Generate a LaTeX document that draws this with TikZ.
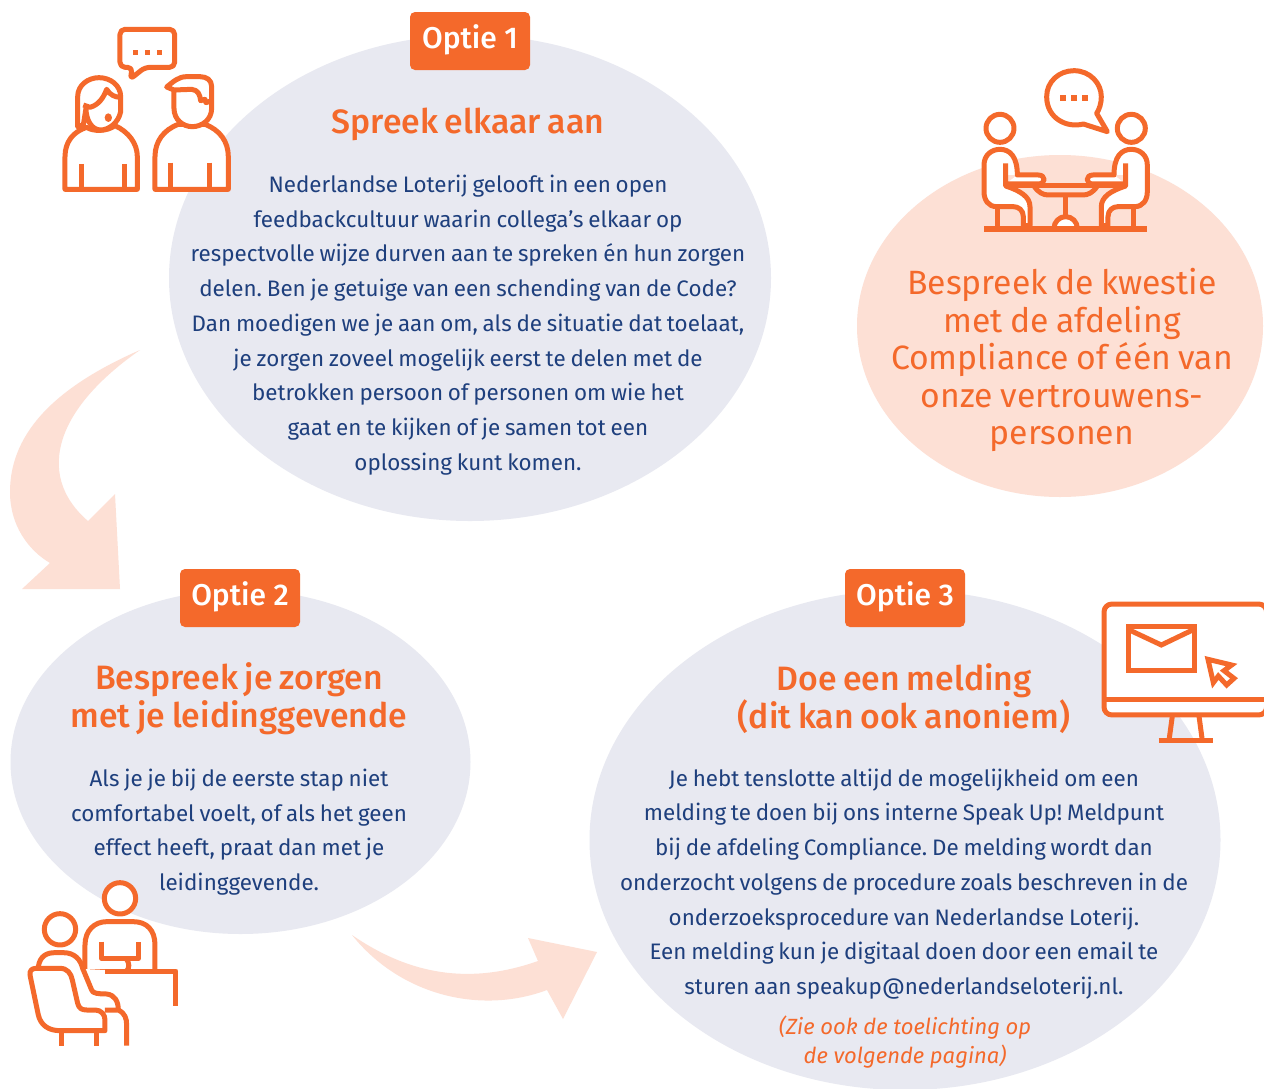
\documentclass[tikz,border=0pt]{standalone}
\usepackage{fontspec}
\setmainfont{Fira Sans}
\newfontfamily\titlef{Fira Sans Medium}
\definecolor{org}{HTML}{F4692B}
\definecolor{pale}{HTML}{E8E9F1}
\definecolor{pinkish}{HTML}{FDE0D5}
\definecolor{navy}{HTML}{1E3F7D}
\tikzset{
 badge/.style={fill=org,rounded corners=5pt,minimum width=120pt,minimum height=58pt,text=white,inner sep=0pt,font=\titlef\fontsize{30}{32}\selectfont},
 heading/.style={text=org,align=center,inner sep=0pt,font=\titlef\fontsize{33.8}{37.6}\selectfont\spaceskip 0.2em\relax},
 bodytext/.style={text=navy,align=center,inner sep=0pt,font=\fontsize{22.4}{34.7}\selectfont\frenchspacing\spaceskip 0.215em\relax},
 pinktext/.style={text=org,align=center,inner sep=0pt,font=\fontsize{33.7}{37.5}\selectfont\spaceskip 0.22em\relax},
 notetext/.style={text=org,align=center,inner sep=0pt,font=\itshape\fontsize{22}{29}\selectfont},
 icon/.style={draw=org,line width=5pt,line join=round},
 iconf/.style={icon,fill=white},
 dot/.style={fill=org,draw=none},
}
\begin{document}
\begin{tikzpicture}[x=1pt,y=-1pt]
\useasboundingbox (0,0) rectangle (1264,1088);
\clip (0,0) rectangle (1264,1088);
\fill[white] (0,0) rectangle (1264,1088);
% blobs
\fill[pale] (470,278) ellipse [x radius=301,y radius=243];
\fill[pinkish] (1060,326) ellipse [x radius=203,y radius=171];
\fill[pale] (240.5,762) ellipse [x radius=230,y radius=172];
\fill[pale] (905,840) ellipse [x radius=315.5,y radius=250];
% curved arrows
\fill[pinkish] (140,350) .. controls (60,385) and (10,430) .. (10,492)
  .. controls (10,525) and (28,550) .. (50,563) -- (22,589) -- (120,589) -- (115,494) -- (88,521)
  .. controls (40,480) and (47,415) .. (140,350) -- cycle;
\fill[pinkish] (352,935) .. controls (400,995) and (480,1015) .. (547,990) -- (563,1019) -- (597,952) -- (528,938) -- (538,961)
  .. controls (470,985) and (410,975) .. (352,935) -- cycle;
% badges
\node[badge] (b1) at (470,41) {};
\node[badge,fill=none] (b1t) at (470,40) {Optie 1};
\node[badge] (b2) at (240,598) {};
\node[badge,fill=none] (b2t) at (240,597) {Optie 2};
\node[badge] (b3) at (905,598) {};
\node[badge,fill=none] (b3t) at (905,597) {Optie 3};
% texts
\node[heading] (t1) at (468,124) {Spreek elkaar aan};
\node[bodytext] (p1) at (468,325) {Nederlandse Loterij gelooft in een open\\feedbackcultuur waarin collega’s elkaar op\\respectvolle wijze durven aan te spreken én hun zorgen\\delen. Ben je getuige van een schending van de Code?\\Dan moedigen we je aan om, als de situatie dat toelaat,\\je zorgen zoveel mogelijk eerst te delen met de\\betrokken persoon of personen om wie het\\gaat en te kijken of je samen tot een\\oplossing kunt komen.};
\node[pinktext] (p4) at (1062,360) {Bespreek de kwestie\\met de afdeling\\Compliance of één van\\onze vertrouwens-\\personen};
\node[heading] (t2) at (239,698.5) {Bespreek je zorgen\\met je leidinggevende};
\node[bodytext] (p2) at (239,832) {Als je je bij de eerste stap niet\\comfortabel voelt, of als het geen\\effect heeft, praat dan met je\\leidinggevende.};
\node[heading] (t3) at (904,698.5) {Doe een melding\\(dit kan ook anoniem)};
\node[bodytext] (p3) at (904,884) {Je hebt tenslotte altijd de mogelijkheid om een\\melding te doen bij ons interne Speak Up! Meldpunt\\bij de afdeling Compliance. De melding wordt dan\\onderzocht volgens de procedure zoals beschreven in de\\onderzoeksprocedure van Nederlandse Loterij.\\Een melding kun je digitaal doen door een email te\\sturen aan speakup@nederlandseloterij.nl.};
\node[notetext] (n3) at (905,1042) {(Zie ook de toelichting op\\de volgende pagina)};
% icon 1: two people talking
\begin{scope}[shift={(30,10)},x=0.3333pt,y=-0.3333pt]
 \draw[icon,rounded corners=5pt] (270,58) -- (434,58) -- (434,172) -- (345,172) -- (300,208) -- (308,172) -- (270,172) -- cycle;
 \foreach \xx in {316,352,388} \fill[dot] (\xx-8,119) rectangle (\xx+8,135);
 % woman
 \draw[iconf] (105,538) -- (105,440) .. controls (105,395) and (130,365) .. (170,352) .. controls (190,365) and (230,365) .. (255,347) .. controls (295,365) and (322,400) .. (322,440) -- (322,538) -- cycle;
 \draw[icon] (156,462) -- (156,538) (283,462) -- (283,538);
 \draw[iconf] (143,350) -- (143,260) .. controls (143,225) and (175,203) .. (207,203) .. controls (240,203) and (272,225) .. (272,260) -- (272,305) .. controls (265,340) and (235,360) .. (212,360) .. controls (185,360) and (168,330) .. (168,295) -- (160,345) -- cycle;
 \draw[icon] (160,285) -- (180,292) .. controls (205,285) and (220,265) .. (230,238) .. controls (240,255) and (255,262) .. (272,262);
 \fill[org] (235,323) ellipse [x radius=11,y radius=13];
 % man
 \draw[iconf] (375,538) -- (375,440) .. controls (375,395) and (400,360) .. (445,343) -- (525,343) .. controls (570,360) and (595,395) .. (595,440) -- (595,538) -- cycle;
 \draw[icon] (422,458) -- (422,538) (540,458) -- (540,538);
 \draw[iconf] (432,240) -- (432,295) .. controls (432,330) and (460,350) .. (487,350) .. controls (515,350) and (545,330) .. (545,295) -- (545,230) .. controls (545,210) and (530,200) .. (510,200) -- (470,200) .. controls (445,200) and (430,215) .. (410,231) -- (432,240) -- (485,238) .. controls (505,240) and (510,255) .. (512,272) -- (525,268) -- (528,278) -- (545,272);
\end{scope}
% icon 2: table talk
\begin{scope}[shift={(960,60)},x=0.3333pt,y=-0.3333pt]
 \draw[iconf] (410,160) -- (442,215) -- (370,192) .. controls (320,205) and (260,175) .. (260,110) .. controls (260,65) and (297,32) .. (342,32) .. controls (390,32) and (424,70) .. (424,110) .. controls (424,130) and (418,148) .. (410,160) -- cycle;
 \foreach \xx in {309,342,375} \fill[dot] (\xx-9,104) rectangle (\xx+9,122);
 \draw[icon] (222,378) .. controls (235,398) and (250,405) .. (265,405) -- (369,405) .. controls (384,405) and (399,398) .. (412,378);
 \draw[icon] (137,378) -- (497,378);
 \draw[icon] (317,405) -- (317,470);
 \foreach \mm/\oo in {1/0,-1/634}{
  \begin{scope}[shift={(\oo,0)},xscale=\mm]
  \fill[white] (137,378) .. controls (180,392) and (210,410) .. (210,440) -- (210,497) -- (190,497) -- (190,470) .. controls (190,450) and (175,440) .. (160,440) -- (110,440) .. controls (85,440) and (72,420) .. (72,395) -- (72,315) .. controls (72,285) and (95,268) .. (120,268) .. controls (150,268) and (172,290) .. (172,345) -- (137,345) -- cycle;
  \fill[white] (172,345) -- (235,345) .. controls (258,345) and (258,372) .. (235,372) -- (137,372) -- cycle;
  \draw[icon] (137,310) -- (137,378) .. controls (180,392) and (210,410) .. (210,440) -- (210,497) -- (190,497) -- (190,470) .. controls (190,450) and (175,440) .. (160,440) -- (110,440) .. controls (85,440) and (72,420) .. (72,395) -- (72,315) .. controls (72,285) and (95,268) .. (120,268) .. controls (150,268) and (172,290) .. (172,345) -- (235,345) .. controls (258,345) and (258,372) .. (235,372) -- (137,372);
  \draw[iconf] (120,205) circle [radius=42];
  \draw[icon] (113,440) -- (113,505);
  \end{scope}
 }
 \draw[icon,fill=white] (282,505) arc [start angle=180,end angle=360,radius=35];
 \draw[icon,line width=6pt] (72,507) -- (562,507);
\end{scope}
% icon 3: two people at a desk
\begin{scope}[shift={(10,870)},x=0.3333pt,y=-0.3333pt]
 \draw[iconf] (225,303) -- (225,225) .. controls (225,180) and (255,155) .. (290,155) -- (370,155) .. controls (410,155) and (435,180) .. (435,225) -- (435,303);
 \draw[iconf] (330,85) circle [radius=47];
 \draw[icon] (275,215) -- (275,265) -- (385,265) -- (385,215);
 \draw[icon] (348,265) .. controls (360,280) and (358,295) .. (350,303);
 \draw[icon] (240,303) -- (498,303) -- (498,408);
 \draw[iconf] (150,178) circle [radius=47];
 \fill[white] (85,290) .. controls (90,258) and (110,248) .. (135,248) -- (160,248) .. controls (195,248) and (212,270) .. (218,295) -- (245,360) .. controls (247,370) and (265,372) .. (290,372) .. controls (315,375) and (325,395) .. (325,420) -- (285,450) -- (285,300) -- cycle;
 \draw[icon] (85,290) .. controls (90,258) and (110,248) .. (135,248) -- (160,248) .. controls (195,248) and (212,270) .. (218,295) -- (245,360) .. controls (247,370) and (265,372) .. (290,372) .. controls (315,375) and (325,395) .. (325,420);
 \draw[icon] (285,420) -- (325,420) .. controls (345,430) and (350,445) .. (350,465) -- (350,527);
 \draw[iconf] (78,295) -- (150,295) .. controls (172,295) and (183,310) .. (187,330) -- (203,400) .. controls (207,415) and (215,420) .. (230,420) -- (255,420) .. controls (275,420) and (285,435) .. (285,450) -- (285,482) -- (150,482) .. controls (115,482) and (92,465) .. (85,435) -- (60,315) .. controls (58,303) and (65,295) .. (78,295) -- cycle;
 \draw[icon] (155,482) -- (155,527) (260,482) -- (260,527);
\end{scope}
% icon 4: monitor
\begin{scope}[shift={(1084,590)},x=0.3333pt,y=-0.3333pt]
 \draw[icon] (265,378) -- (255,452) (345,378) -- (355,452);
 \draw[icon] (224,452) -- (388,452);
 \draw[iconf,rounded corners=8pt] (60,42) rectangle (548,375);
 \draw[icon] (60,328) -- (548,328);
 \draw[icon,line join=miter] (132,110) rectangle (330,240);
 \draw[icon,line join=miter] (132,118) -- (232,165) -- (330,118);
 \draw[icon,line join=miter] (372,208) -- (443,225) -- (420,242) -- (450,265) -- (428,285) -- (403,258) -- (388,278) -- cycle;
\end{scope}
\end{tikzpicture}
\end{document}
